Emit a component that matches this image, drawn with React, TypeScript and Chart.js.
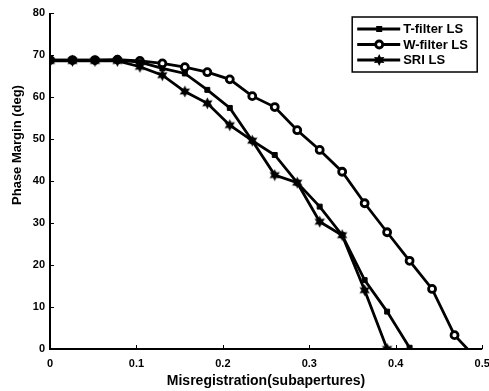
import React, { useEffect, useRef } from 'react';
import { Chart, registerables } from 'chart.js';

Chart.register(...registerables);

// Misregistration positions (subapertures)
const misregistration = [
  0, 0.026, 0.052, 0.078, 0.104, 0.13, 0.156, 0.182, 0.208, 0.234,
  0.26, 0.286, 0.312, 0.338, 0.364, 0.39, 0.416, 0.442, 0.468, 0.494,
];

// Phase margin (deg) for each reconstructor
const tFilterLS = [
  68.8, 68.8, 68.8, 68.8, 68.3, 66.8, 65.6, 61.7, 57.4, 49.6,
  46.2, 39.6, 33.9, 27.1, 16.4, 8.9, 0.3,
];
const wFilterLS = [
  68.8, 68.8, 68.8, 68.9, 68.6, 68.0, 67.1, 65.9, 64.2, 60.2,
  57.6, 52.1, 47.4, 42.2, 34.7, 27.8, 21.0, 14.3, 3.3, -2.4,
];
const sriLS = [
  68.6, 68.6, 68.6, 68.6, 67.2, 65.2, 61.3, 58.5, 53.3, 49.6,
  41.4, 39.6, 30.3, 27.1, 14.0, 0,
];

const seriesNames = ['T-filter LS', 'W-filter LS', 'SRI LS'];
const xTicks = [0, 0.1, 0.2, 0.3, 0.4, 0.5];
const yTicks = [0, 10, 20, 30, 40, 50, 60, 70, 80];

const FONT = '"Liberation Sans", Arial, sans-serif';

function toPoints(values: number[]) {
  return values.map((v, i) => ({ x: misregistration[i], y: v }));
}

function traceStar(ctx: CanvasRenderingContext2D, cx: number, cy: number, ro: number, ri: number) {
  ctx.beginPath();
  for (let i = 0; i < 12; i++) {
    const r = i % 2 === 0 ? ro : ri;
    const a = -Math.PI / 2 + (i * Math.PI) / 6;
    const px = cx + r * Math.cos(a);
    const py = cy + r * Math.sin(a);
    if (i === 0) ctx.moveTo(px, py);
    else ctx.lineTo(px, py);
  }
  ctx.closePath();
}

function makeStarImage(): HTMLCanvasElement {
  const c = document.createElement('canvas');
  c.width = 13;
  c.height = 13;
  const g = c.getContext('2d')!;
  g.fillStyle = '#000';
  traceStar(g, 6.5, 6.5, 6, 3.2);
  g.fill();
  return c;
}

function drawMarker(ctx: CanvasRenderingContext2D, kind: number, x: number, y: number) {
  ctx.save();
  ctx.fillStyle = '#000';
  ctx.strokeStyle = '#000';
  if (kind === 0) {
    ctx.fillRect(x - 3, y - 3, 6, 6);
  } else if (kind === 1) {
    ctx.beginPath();
    ctx.arc(x, y, 3.5, 0, Math.PI * 2);
    ctx.fillStyle = '#fff';
    ctx.fill();
    ctx.lineWidth = 2.8;
    ctx.stroke();
  } else {
    traceStar(ctx, x, y, 6, 3.2);
    ctx.fill();
  }
  ctx.restore();
}

const framePlugin = {
  id: 'frame',
  afterDatasetsDraw(chart: any) {
    const { ctx, chartArea } = chart;
    const { left, right, top, bottom } = chartArea;
    const xs = chart.scales.x;
    const ys = chart.scales.y;
    ctx.save();
    ctx.strokeStyle = '#000';
    ctx.lineWidth = 2;
    ctx.beginPath();
    ctx.moveTo(left, top);
    ctx.lineTo(left, bottom);
    ctx.lineTo(right, bottom);
    ctx.stroke();

    ctx.lineWidth = 1;
    ctx.beginPath();
    xTicks.forEach((t) => {
      const px = Math.round(xs.getPixelForValue(t)) + 0.5;
      ctx.moveTo(px, bottom);
      ctx.lineTo(px, bottom - 4);
    });
    yTicks.forEach((t) => {
      const py = Math.round(ys.getPixelForValue(t)) + 0.5;
      ctx.moveTo(left, py);
      ctx.lineTo(left + 4, py);
    });
    ctx.stroke();

    // axis titles
    ctx.fillStyle = '#000';
    ctx.textAlign = 'center';
    ctx.textBaseline = 'middle';
    ctx.font = `bold 14px ${FONT}`;
    ctx.fillText('Misregistration(subapertures)', 266, 381);
    ctx.save();
    ctx.translate(17, 145);
    ctx.rotate(-Math.PI / 2);
    ctx.font = `bold 13px ${FONT}`;
    ctx.fillText('Phase Margin (deg)', 0, 0);
    ctx.restore();

    // legend
    const bx = right - 130;
    const by = top + 4;
    const bw = 125;
    const bh = 55;
    ctx.fillStyle = '#fff';
    ctx.fillRect(bx, by, bw, bh);
    ctx.lineWidth = 1.5;
    ctx.strokeRect(bx, by, bw, bh);
    ctx.font = `bold 13px ${FONT}`;
    ctx.textAlign = 'left';
    seriesNames.forEach((name, i) => {
      const ry = by + 12 + i * 15.5;
      ctx.lineWidth = 2.8;
      ctx.beginPath();
      ctx.moveTo(bx + 5, ry);
      ctx.lineTo(bx + 48, ry);
      ctx.stroke();
      drawMarker(ctx, i, bx + 27, ry);
      ctx.fillStyle = '#000';
      ctx.fillText(name, bx + 51, ry + 0.5);
    });
    ctx.restore();
  },
};

export default function App() {
  const canvasRef = useRef<HTMLCanvasElement | null>(null);

  useEffect(() => {
    const canvas = canvasRef.current;
    if (!canvas) return;
    const star = makeStarImage();
    const chart = new Chart(canvas, {
      type: 'line',
      data: {
        datasets: [
          {
            label: seriesNames[0],
            data: toPoints(tFilterLS),
            borderColor: '#000',
            backgroundColor: '#000',
            borderWidth: 2.8,
            pointStyle: 'rect',
            pointRadius: 3.5,
            pointBorderWidth: 1,
          },
          {
            label: seriesNames[1],
            data: toPoints(wFilterLS),
            borderColor: '#000',
            backgroundColor: '#fff',
            borderWidth: 2.8,
            pointStyle: 'circle',
            pointRadius: 3.5,
            pointBorderWidth: 2.8,
          },
          {
            label: seriesNames[2],
            data: toPoints(sriLS),
            borderColor: '#000',
            backgroundColor: '#000',
            borderWidth: 2.8,
            pointStyle: star as any,
          },
        ],
      },
      options: {
        animation: false,
        responsive: false,
        parsing: false as any,
        layout: { padding: { left: 0, right: 6, top: 13, bottom: 0 } },
        plugins: {
          legend: { display: false },
          tooltip: { enabled: false },
        },
        scales: {
          x: {
            type: 'linear',
            min: 0,
            max: 0.5,
            grid: { display: false, drawTicks: false },
            border: { display: false },
            afterBuildTicks: (scale: any) => {
              scale.ticks = xTicks.map((v) => ({ value: v }));
            },
            afterFit: (scale: any) => {
              scale.height = 42;
              scale.paddingLeft = 0;
              scale.paddingRight = 0;
            },
            ticks: {
              color: '#000',
              padding: 8,
              maxRotation: 0,
              autoSkip: false,
              font: { family: FONT, size: 11, weight: 'bold' },
              callback: (v: any) => String(Number(v)),
            },
          },
          y: {
            type: 'linear',
            min: 0,
            max: 80,
            grid: { display: false, drawTicks: false },
            border: { display: false },
            afterBuildTicks: (scale: any) => {
              scale.ticks = yTicks.map((v) => ({ value: v }));
            },
            afterFit: (scale: any) => {
              scale.width = 50;
              scale.paddingTop = 0;
              scale.paddingBottom = 0;
            },
            ticks: {
              color: '#000',
              padding: 5,
              autoSkip: false,
              font: { family: FONT, size: 11, weight: 'bold' },
              callback: (v: any) => String(Number(v)),
            },
          },
        },
      },
      plugins: [framePlugin],
    } as any);
    return () => chart.destroy();
  }, []);

  return (
    <div style={{ position: 'fixed', left: 0, top: 0, width: 489, height: 391, background: '#fff' }}>
      <canvas ref={canvasRef} width={489} height={391} />
    </div>
  );
}
